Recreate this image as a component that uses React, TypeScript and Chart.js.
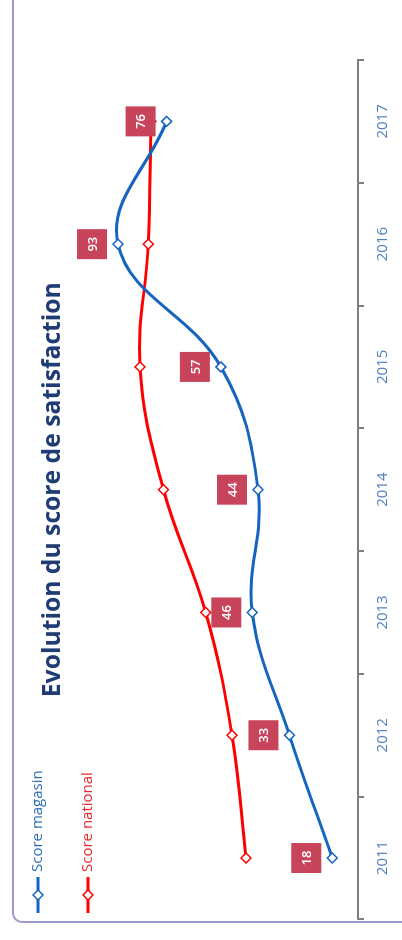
import React, { useEffect, useRef } from "react";
import { Chart, registerables } from "chart.js";

Chart.register(...registerables);

const years = ["2011", "2012", "2013", "2014", "2015", "2016", "2017"];
const scoreMagasin = [18, 33, 46, 44, 57, 93, 76];
const scoreNational = [48.2, 53.1, 62.3, 77.1, 85.3, 82.4, 81.5];
const seriesNames = ["Score magasin", "Score national"];
const titleText = "Evolution du score de satisfaction";

const BLUE = "#1565C0";
const RED = "#FF0000";
const LABEL_BG = "#C8445A";
const CW = 940;
const CH = 402;

const sideLegend = {
  id: "sideLegend",
  afterDraw(chart: any) {
    const ctx = chart.ctx;
    const rows = [38, 88];
    const textColors = ["#2E6DB4", "#E8282E"];
    chart.data.datasets.forEach((ds: any, i: number) => {
      const y = rows[i];
      ctx.save();
      ctx.strokeStyle = ds.borderColor;
      ctx.lineWidth = 3;
      ctx.beginPath();
      ctx.moveTo(27, y);
      ctx.lineTo(63, y);
      ctx.stroke();
      ctx.beginPath();
      ctx.moveTo(45, y - 5);
      ctx.lineTo(50, y);
      ctx.lineTo(45, y + 5);
      ctx.lineTo(40, y);
      ctx.closePath();
      ctx.fillStyle = "#fff";
      ctx.fill();
      ctx.lineWidth = 1.5;
      ctx.stroke();
      ctx.fillStyle = textColors[i];
      ctx.font = "15px 'Open Sans'";
      ctx.textBaseline = "middle";
      ctx.textAlign = "left";
      ctx.fillText(ds.label, 68, y);
      ctx.restore();
    });
  },
};

const valueLabels = {
  id: "valueLabels",
  afterDatasetsDraw(chart: any) {
    const ctx = chart.ctx;
    const meta = chart.getDatasetMeta(0);
    const data = chart.data.datasets[0].data;
    ctx.save();
    meta.data.forEach((pt: any, i: number) => {
      const cx = pt.x;
      const cy = pt.y - 26;
      ctx.fillStyle = LABEL_BG;
      ctx.fillRect(cx - 15, cy - 15, 30, 30);
      ctx.fillStyle = "#fff";
      ctx.font = "600 13px 'Open Sans'";
      ctx.textAlign = "center";
      ctx.textBaseline = "middle";
      ctx.fillText(String(data[i]), cx, cy + 1);
    });
    ctx.restore();
  },
};

export default function App() {
  const ref = useRef<HTMLCanvasElement>(null);

  useEffect(() => {
    const chart = new Chart(ref.current as HTMLCanvasElement, {
      type: "line",
      data: {
        labels: years,
        datasets: [
          {
            label: seriesNames[0],
            data: scoreMagasin,
            borderColor: BLUE,
            backgroundColor: BLUE,
            borderWidth: 3,
            tension: 0.4,
            pointStyle: "rectRot",
            pointRadius: 5,
            pointBackgroundColor: "#fff",
            pointBorderColor: BLUE,
            pointBorderWidth: 1.5,
          },
          {
            label: seriesNames[1],
            data: scoreNational,
            borderColor: RED,
            backgroundColor: RED,
            borderWidth: 3,
            tension: 0.4,
            pointStyle: "rectRot",
            pointRadius: 5,
            pointBackgroundColor: "#fff",
            pointBorderColor: RED,
            pointBorderWidth: 1.5,
          },
        ],
      },
      options: {
        responsive: false,
        animation: false,
        devicePixelRatio: 1,
        layout: { padding: { left: 20.6, right: 60, top: 0, bottom: 0 } },
        plugins: {
          legend: { display: false },
          tooltip: { enabled: false },
          title: {
            display: true,
            text: titleText,
            color: "#1F3C74",
            font: { family: "'Open Sans'", size: 24.7, weight: "bold" },
            padding: { top: 38.2, bottom: 30.2 },
          },
        },
        scales: {
          x: {
            type: "category",
            offset: true,
            grid: {
              offset: true,
              drawOnChartArea: false,
              drawTicks: true,
              tickLength: 6,
              color: "#7F7F7F",
              lineWidth: 2,
            },
            border: { display: true, color: "#7F7F7F", width: 2 },
            ticks: {
              color: "#4F81BD",
              font: { family: "'Open Sans'", size: 15 },
              padding: 10,
              maxRotation: 0,
              autoSkip: false,
            },
          },
          y: { display: false, min: 9, max: 100 },
        },
      },
      plugins: [valueLabels, sideLegend],
    } as any);
    return () => chart.destroy();
  }, []);

  return (
    <div
      style={{
        position: "fixed",
        left: 0,
        top: 0,
        width: 402,
        height: 940,
        overflow: "hidden",
        background: "#fff",
      }}
    >
      <div
        style={{
          position: "absolute",
          left: 0,
          top: 0,
          width: CW,
          height: CH,
          transformOrigin: "0 0",
          transform: `translateY(${CW}px) rotate(-90deg)`,
        }}
      >
        <div
          style={{
            position: "absolute",
            left: 17,
            top: 12,
            width: 1000,
            height: 500,
            border: "2px solid #9A9ACB",
            borderRadius: 10,
            boxSizing: "border-box",
          }}
        />
        <canvas
          ref={ref}
          width={CW}
          height={CH}
          style={{ position: "absolute", left: 0, top: 0, width: CW, height: CH }}
        />
      </div>
    </div>
  );
}
